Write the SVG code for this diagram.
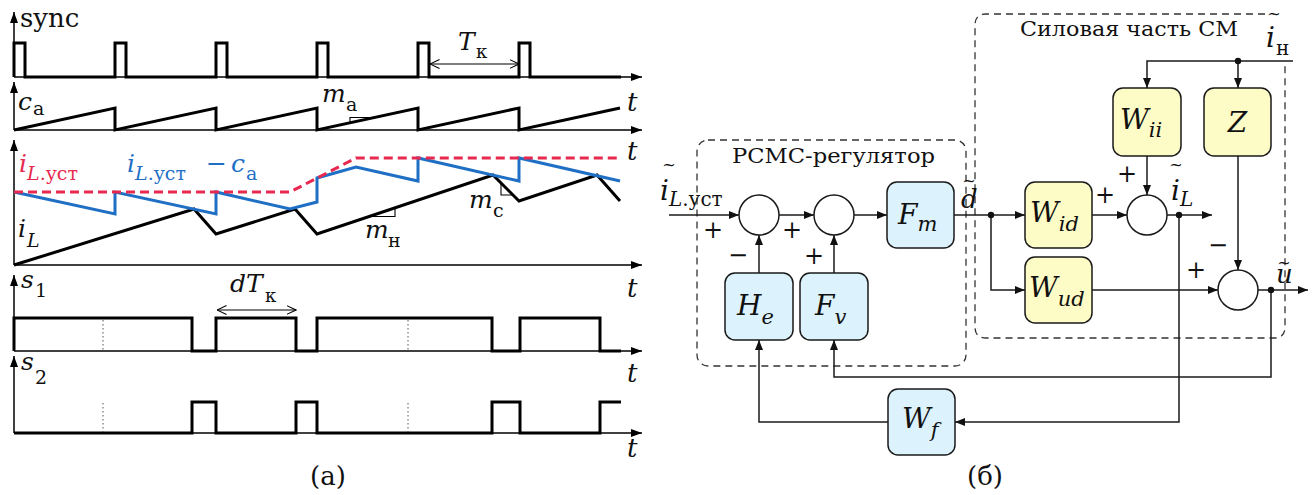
<svg xmlns="http://www.w3.org/2000/svg" width="1314" height="495" viewBox="0 0 1314 495">
<defs>
<style>
text{font-family:"DejaVu Serif","Liberation Serif",serif;fill:#111}
.it{font-style:italic}
.wf{fill:none;stroke:#000;stroke-width:3;stroke-linejoin:miter}
.ax{fill:none;stroke:#000;stroke-width:1.5}
.thin{fill:none;stroke:#000;stroke-width:1.1}
.dot{fill:none;stroke:#555;stroke-width:1;stroke-dasharray:1.5,2.5}
.ln{fill:none;stroke:#1a1a1a;stroke-width:1.5}
.bb{fill:#dcf2fc;stroke:#1a1a1a;stroke-width:1.5}
.yb{fill:#fdfbc6;stroke:#1a1a1a;stroke-width:1.5}
.sum{fill:#fff;stroke:#1a1a1a;stroke-width:1.5}
.grp{fill:none;stroke:#333;stroke-width:1.3;stroke-dasharray:7,5}
.jn{fill:#111}
.sg{font-size:24px;text-anchor:middle}
.tl{font-size:16px}
</style>
<marker id="ah" viewBox="0 0 10 8" refX="10" refY="4" markerWidth="10" markerHeight="8" orient="auto" markerUnits="userSpaceOnUse"><path d="M0,0 L10,4 L0,8 z" fill="#111"/></marker>
<marker id="ax" viewBox="0 0 11 8" refX="11" refY="4" markerWidth="11" markerHeight="8" orient="auto" markerUnits="userSpaceOnUse"><path d="M0,0 L11,4 L0,8 z" fill="#000"/></marker>
<marker id="oa" viewBox="0 0 10 10" refX="9.5" refY="5" markerWidth="10" markerHeight="10" orient="auto-start-reverse" markerUnits="userSpaceOnUse"><path d="M0,0.5 L9.5,5 L0,9.5" fill="none" stroke="#000" stroke-width="1.1"/></marker>
</defs>
<rect width="1314" height="495" fill="#fff"/>

<g id="panel-a">
<!-- axes -->
<g id="axes">
<path class="ax" d="M14,77 V12" marker-end="url(#ax)"/>
<path class="ax" d="M14,77 H642" marker-end="url(#ax)"/>
<path class="ax" d="M14,130 V82" marker-end="url(#ax)"/>
<path class="ax" d="M14,130 H642" marker-end="url(#ax)"/>
<path class="ax" d="M14,265 V140" marker-end="url(#ax)"/>
<path class="ax" d="M14,265 H642" marker-end="url(#ax)"/>
<path class="ax" d="M14,351 V275" marker-end="url(#ax)"/>
<path class="ax" d="M14,351 H642" marker-end="url(#ax)"/>
<path class="ax" d="M14,433 V356" marker-end="url(#ax)"/>
<path class="ax" d="M14,433 H642" marker-end="url(#ax)"/>
</g>
<!-- waveforms -->
<path class="wf" d="M14,77 V43 H25 V77 H115 V43 H126 V77 H216 V43 H227 V77 H317 V43 H328 V77 H418 V43 H429 V77 H519 V43 H530 V77 H621"/>
<path class="wf" d="M14,130 L115,108 V130 L216,108 V130 L317,108 V130 L418,108 V130 L519,108 V130 L620,108"/>
<path class="wf" d="M14,265 L194,209 L216,234 L295,209 L317,234 L493,175 L519,201 L597,175 L620,201"/>
<path d="M14,192 L115,214 V192 L216,214 V192 L290,209 L317,202 V178 L356,167 L418,181 V158 L519,181 V158 L620,181" fill="none" stroke="#1f6fc5" stroke-width="3"/>
<path d="M14,192 H290 L356,158 H620" fill="none" stroke="#e8284f" stroke-width="3" stroke-dasharray="9,5"/>
<path class="wf" d="M14,351 V318 H192 V351 H216 V318 H296 V351 H317 V318 H492 V351 H520 V318 H600 V351 H621"/>
<path class="wf" d="M14,433 H192 V402 H216 V433 H296 V402 H317 V433 H492 V402 H520 V433 H600 V402 H621"/>
<path class="dot" d="M103,320 V350 M408,320 V350 M103,403 V432 M408,403 V432"/>
<!-- slope triangles -->
<path class="thin" d="M350,122.8 V117.5 H375"/>
<path class="thin" d="M370,216.5 H395 V208"/>
<path class="thin" d="M501,183 V195 H513"/>
<!-- dimension arrows -->
<path class="thin" d="M430,64 H519" marker-start="url(#oa)" marker-end="url(#oa)"/>
<path class="thin" d="M217,310 H296" marker-start="url(#oa)" marker-end="url(#oa)"/>
<!-- labels -->
<text x="20" y="27" font-size="26">sync</text>
<text x="458" y="50" font-size="25" class="it">T</text><text x="476" y="58" font-size="18">к</text>
<text x="18" y="110" font-size="25" class="it">c</text><text x="33" y="115" font-size="19">a</text>
<text x="322" y="102" font-size="25" class="it">m</text><text x="346" y="111" font-size="19">a</text>
<text x="19" y="172" font-size="25" class="it" fill="#e8284f" style="fill:#e8284f">i<tspan dy="8" font-size="19">L</tspan><tspan font-style="normal" font-size="19">.уст</tspan></text>
<text x="127" y="172" font-size="25" class="it" style="fill:#1f6fc5">i<tspan dy="8" font-size="19">L</tspan><tspan font-style="normal" font-size="19">.уст</tspan></text>
<text x="206" y="172" font-size="25" style="fill:#1f6fc5">−</text>
<text x="231" y="172" font-size="25" class="it" style="fill:#1f6fc5">c</text><text x="246" y="180" font-size="19" style="fill:#1f6fc5">a</text>
<text x="18" y="237" font-size="25" class="it">i</text><text x="27" y="247" font-size="19" class="it">L</text>
<text x="365" y="238" font-size="25" class="it">m</text><text x="388" y="247" font-size="19">н</text>
<text x="469" y="208" font-size="25" class="it">m</text><text x="493" y="217" font-size="19">с</text>
<text x="21" y="288" font-size="25" class="it">s</text><text x="35" y="297" font-size="19">1</text>
<text x="21" y="370" font-size="25" class="it">s</text><text x="35" y="384" font-size="19">2</text>
<text x="230" y="292" font-size="25" class="it">dT</text><text x="265" y="302" font-size="18">к</text>
<text x="627" y="111" font-size="26" class="it">t</text>
<text x="627" y="160" font-size="26" class="it">t</text>
<text x="627" y="297" font-size="26" class="it">t</text>
<text x="627" y="382" font-size="26" class="it">t</text>
<text x="627" y="457" font-size="26" class="it">t</text>
<text x="328" y="485" font-size="26" text-anchor="middle">(а)</text>
</g>

<g id="panel-b">
<g id="groups">
<rect class="grp" x="697" y="140" width="269" height="226" rx="11"/>
<path class="grp" d="M1265,14 H986 Q975,14 975,25 V327 Q975,338 986,338 H1274 Q1285,338 1285,327 V65"/>
<text x="732" y="163" font-size="21" textLength="203" lengthAdjust="spacingAndGlyphs">РСМС-регулятор</text>
<text x="1020" y="36" font-size="21" textLength="218" lengthAdjust="spacingAndGlyphs">Силовая часть СМ</text>
</g>

<g id="connectors">
<path class="ln" d="M669,215 H739" marker-end="url(#ah)"/>
<path class="ln" d="M779,215 H814" marker-end="url(#ah)"/>
<path class="ln" d="M854,215 H887" marker-end="url(#ah)"/>
<path class="ln" d="M954,215 H1025" marker-end="url(#ah)"/>
<path class="ln" d="M991,215 V290 H1025" marker-end="url(#ah)"/>
<path class="ln" d="M1092,215 H1127" marker-end="url(#ah)"/>
<path class="ln" d="M1167,215 H1212" marker-end="url(#ah)"/>
<path class="ln" d="M1293,61 H1147 V88" marker-end="url(#ah)"/>
<path class="ln" d="M1238,61 V88" marker-end="url(#ah)"/>
<path class="ln" d="M1147,156 V195" marker-end="url(#ah)"/>
<path class="ln" d="M1238,156 V270" marker-end="url(#ah)"/>
<path class="ln" d="M1092,290 H1218" marker-end="url(#ah)"/>
<path class="ln" d="M1258,290 H1308" marker-end="url(#ah)"/>
<path class="ln" d="M1271,290 V377 H834 V340" marker-end="url(#ah)"/>
<path class="ln" d="M1179,215 V422 H955" marker-end="url(#ah)"/>
<path class="ln" d="M888,422 H759 V340" marker-end="url(#ah)"/>
<path class="ln" d="M759,273 V235" marker-end="url(#ah)"/>
<path class="ln" d="M834,273 V235" marker-end="url(#ah)"/>
<circle class="jn" cx="991" cy="215" r="3.2"/>
<circle class="jn" cx="1179" cy="215" r="3.2"/>
<circle class="jn" cx="1238" cy="61" r="3.2"/>
<circle class="jn" cx="1271" cy="290" r="3.2"/>
</g>

<g id="sum1"><circle class="sum" cx="759" cy="215" r="20"/></g>
<g id="sum2"><circle class="sum" cx="834" cy="215" r="20"/></g>
<g id="sum3"><circle class="sum" cx="1147" cy="215" r="20"/></g>
<g id="sum4"><circle class="sum" cx="1238" cy="290" r="20"/></g>

<g id="Fm"><rect class="bb" x="887" y="182" width="67" height="66" rx="10"/><text x="898" y="224" font-size="28" class="it">F<tspan dy="7" font-size="21">m</tspan></text></g>
<g id="He"><rect class="bb" x="725" y="273" width="68" height="67" rx="10"/><text x="737" y="315" font-size="28" class="it">H<tspan dy="9" font-size="21">e</tspan></text></g>
<g id="Fv"><rect class="bb" x="800" y="273" width="68" height="67" rx="10"/><text x="815" y="315" font-size="28" class="it">F<tspan dy="9" font-size="21">v</tspan></text></g>
<g id="Wf"><rect class="bb" x="888" y="389" width="67" height="66" rx="10"/><text x="902" y="428" font-size="28" class="it">W<tspan dy="9" font-size="21">f</tspan></text></g>
<g id="Wid"><rect class="yb" x="1025" y="182" width="67" height="66" rx="10"/><text x="1030" y="222" font-size="28" class="it">W<tspan dy="9" font-size="21">id</tspan></text></g>
<g id="Wud"><rect class="yb" x="1025" y="257" width="67" height="66" rx="10"/><text x="1029" y="297" font-size="28" class="it">W<tspan dy="9" font-size="21">ud</tspan></text></g>
<g id="Wii"><rect class="yb" x="1113" y="88" width="68" height="68" rx="10"/><text x="1120" y="129" font-size="28" class="it">W<tspan dy="8" font-size="21">ii</tspan></text></g>
<g id="Z"><rect class="yb" x="1204" y="88" width="67" height="68" rx="10"/><text x="1237.5" y="132" font-size="28" class="it" text-anchor="middle">Z</text></g>

<g id="labels-b">
<text x="669" y="170" class="tl" text-anchor="middle">~</text>
<text x="660" y="200" font-size="28" class="it">i<tspan dy="6" font-size="20">L</tspan><tspan font-style="normal" font-size="20">.уст</tspan></text>
<text x="969" y="186" class="tl" text-anchor="middle">~</text>
<text x="961" y="208" font-size="26" class="it">d</text>
<text x="1176" y="170" class="tl" text-anchor="middle">~</text>
<text x="1171" y="200" font-size="28" class="it">i<tspan dy="6" font-size="20">L</tspan></text>
<text x="1274" y="19" class="tl" text-anchor="middle">~</text>
<text x="1266" y="47" font-size="28" class="it">i</text><text x="1276" y="55" font-size="20">н</text>
<text x="1284" y="268" class="tl" text-anchor="middle">~</text>
<text x="1276" y="283" font-size="26" class="it">u</text>
<text class="sg" x="713" y="238">+</text>
<text class="sg" x="792" y="238">+</text>
<text class="sg" x="738" y="263">−</text>
<text class="sg" x="814" y="264">+</text>
<text class="sg" x="1105" y="203">+</text>
<text class="sg" x="1127" y="182">+</text>
<text class="sg" x="1218" y="253">−</text>
<text class="sg" x="1196" y="278">+</text>
<text x="985" y="485" font-size="26" text-anchor="middle">(б)</text>
</g>
</g>
</svg>
